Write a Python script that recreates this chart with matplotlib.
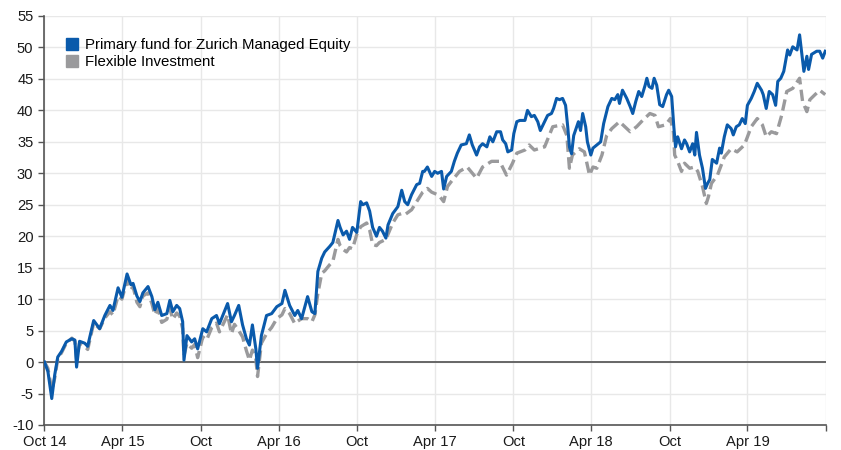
import matplotlib
matplotlib.use("Agg")
import matplotlib.pyplot as plt
import matplotlib.dates as mdates
from matplotlib.lines import Line2D
import pandas as pd

plt.rcParams['font.family'] = ['Liberation Sans', 'DejaVu Sans']

series_names = ["Primary fund for Zurich Managed Equity", "Flexible Investment"]

primary_dates = [
    "2014-10-01", "2014-10-09", "2014-10-18", "2014-10-25", "2014-11-01", "2014-11-10", "2014-11-21",
    "2014-12-04", "2014-12-11", "2014-12-15", "2014-12-22", "2015-01-03", "2015-01-10", "2015-01-15",
    "2015-01-24", "2015-02-07", "2015-02-19", "2015-03-03", "2015-03-10", "2015-03-22", "2015-03-31",
    "2015-04-12", "2015-04-21", "2015-04-26", "2015-05-05", "2015-05-12", "2015-05-19", "2015-05-31",
    "2015-06-09", "2015-06-16", "2015-06-23", "2015-07-02", "2015-07-14", "2015-07-21", "2015-07-28",
    "2015-08-06", "2015-08-13", "2015-08-20", "2015-08-23", "2015-08-30", "2015-09-10", "2015-09-17",
    "2015-09-24", "2015-10-06", "2015-10-15", "2015-10-27", "2015-11-07", "2015-11-14", "2015-12-03",
    "2015-12-12", "2015-12-19", "2015-12-29", "2016-01-07", "2016-01-16", "2016-01-23", "2016-01-30",
    "2016-02-07", "2016-02-11", "2016-02-20", "2016-03-03", "2016-03-15", "2016-03-27", "2016-04-08",
    "2016-04-15", "2016-04-26", "2016-05-08", "2016-05-15", "2016-05-24", "2016-06-07", "2016-06-17",
    "2016-06-24", "2016-07-01", "2016-07-10", "2016-07-17", "2016-07-29", "2016-08-05", "2016-08-17",
    "2016-08-22", "2016-08-29", "2016-09-06", "2016-09-13", "2016-09-20", "2016-09-30", "2016-10-09",
    "2016-10-14", "2016-10-23", "2016-10-30", "2016-11-06", "2016-11-15", "2016-11-22", "2016-11-29",
    "2016-12-07", "2016-12-12", "2016-12-23", "2017-01-04", "2017-01-13", "2017-01-20", "2017-01-27",
    "2017-02-05", "2017-02-17", "2017-02-24", "2017-03-03", "2017-03-07", "2017-03-14", "2017-03-24",
    "2017-03-31", "2017-04-07", "2017-04-16", "2017-04-21", "2017-04-28", "2017-05-09", "2017-05-16",
    "2017-05-23", "2017-06-01", "2017-06-13", "2017-06-20", "2017-06-27", "2017-07-07", "2017-07-14",
    "2017-07-21", "2017-07-31", "2017-08-07", "2017-08-14", "2017-08-23", "2017-09-01", "2017-09-06",
    "2017-09-13", "2017-09-18", "2017-09-27", "2017-10-02", "2017-10-09", "2017-10-16", "2017-10-28",
    "2017-11-03", "2017-11-12", "2017-11-19", "2017-11-27", "2017-12-03", "2017-12-13", "2017-12-20",
    "2017-12-29", "2018-01-03", "2018-01-10", "2018-01-17", "2018-01-24", "2018-01-31", "2018-02-05",
    "2018-02-09", "2018-02-14", "2018-02-19", "2018-02-26", "2018-03-02", "2018-03-07", "2018-03-12",
    "2018-03-19", "2018-03-23", "2018-03-31", "2018-04-05", "2018-04-14", "2018-04-23", "2018-04-30",
    "2018-05-10", "2018-05-19", "2018-05-26", "2018-06-02", "2018-06-06", "2018-06-13", "2018-06-23",
    "2018-07-01", "2018-07-07", "2018-07-14", "2018-07-21", "2018-07-28", "2018-08-05", "2018-08-09",
    "2018-08-14", "2018-08-21", "2018-08-26", "2018-09-01", "2018-09-08", "2018-09-15", "2018-09-24",
    "2018-09-29", "2018-10-06", "2018-10-11", "2018-10-15", "2018-10-20", "2018-10-29", "2018-11-05",
    "2018-11-10", "2018-11-17", "2018-11-24", "2018-11-29", "2018-12-03", "2018-12-10", "2018-12-17",
    "2018-12-24", "2018-12-29", "2019-01-03", "2019-01-09", "2019-01-19", "2019-01-26", "2019-01-30",
    "2019-02-06", "2019-02-13", "2019-02-22", "2019-02-27", "2019-03-06", "2019-03-13", "2019-03-20",
    "2019-03-27", "2019-04-01", "2019-04-10", "2019-04-17", "2019-04-24", "2019-05-04", "2019-05-08",
    "2019-05-15", "2019-05-22", "2019-05-30", "2019-06-06", "2019-06-11", "2019-06-18", "2019-06-25",
    "2019-07-04", "2019-07-09", "2019-07-16", "2019-07-26", "2019-08-01", "2019-08-06", "2019-08-11",
    "2019-08-18", "2019-08-22", "2019-08-29", "2019-09-03", "2019-09-10", "2019-09-17", "2019-09-24",
    "2019-09-30",
]
primary_values = [
    0.0, -1.5, -5.8, -2.0, 0.8, 1.7, 3.2,
    3.7, 3.5, -0.8, 3.3, 3.0, 2.5, 4.0,
    6.6, 5.3, 7.4, 9.0, 8.2, 11.8, 10.3,
    14.0, 12.3, 12.5, 10.5, 9.6, 11.0, 12.0,
    10.4, 8.3, 9.5, 7.4, 7.7, 9.8, 8.0,
    9.0, 8.5, 6.4, 0.3, 4.2, 3.2, 3.7,
    2.1, 5.3, 4.8, 6.9, 7.4, 6.1, 9.3,
    6.4, 7.4, 9.0, 5.9, 3.7, 2.7, 5.9,
    2.1, -1.0, 4.2, 7.4, 7.7, 8.8, 9.3,
    11.4, 9.0, 7.4, 8.2, 6.9, 10.4, 8.0,
    7.7, 14.4, 16.5, 17.5, 18.4, 19.0, 22.5,
    21.4, 20.2, 20.8, 19.5, 21.4, 20.6, 25.5,
    25.0, 25.3, 24.0, 21.4, 20.0, 21.4, 20.8,
    19.7, 21.8, 23.6, 24.7, 27.3, 25.5, 25.0,
    26.6, 28.2, 28.4, 30.3, 30.3, 31.0, 29.5,
    30.3, 30.0, 30.3, 27.5, 29.5, 30.3, 31.9,
    33.2, 34.5, 34.7, 36.1, 34.5, 32.9, 34.2,
    34.7, 34.2, 35.8, 35.0, 36.6, 36.6, 35.3,
    34.7, 33.4, 33.7, 36.3, 38.2, 38.4, 38.4,
    40.0, 39.0, 39.2, 38.2, 36.8, 38.2, 39.2,
    39.5, 40.3, 41.9, 41.7, 41.9, 40.8, 37.4,
    34.2, 33.1, 36.0, 37.4, 38.2, 36.8, 39.5,
    37.4, 35.0, 32.9, 34.0, 34.5, 35.0, 37.9,
    40.6, 41.9, 41.7, 42.5, 41.1, 43.2, 41.9,
    40.6, 39.5, 41.4, 43.0, 42.2, 44.0, 45.1,
    43.8, 43.5, 45.1, 44.0, 40.9, 40.6, 42.5,
    43.2, 42.2, 37.4, 34.2, 35.8, 33.9, 35.3,
    34.7, 33.4, 34.7, 32.9, 36.5, 32.9, 30.8,
    27.6, 28.4, 29.0, 32.2, 31.6, 34.0, 33.2,
    35.8, 37.7, 37.1, 36.1, 37.4, 37.7, 38.7,
    37.9, 40.8, 41.9, 43.0, 44.3, 43.2, 42.5,
    40.3, 43.0, 42.5, 40.8, 44.6, 45.1, 46.2,
    49.6, 48.8, 50.1, 49.6, 52.0, 49.1, 46.2,
    48.6, 46.5, 48.9, 49.1, 49.4, 49.4, 48.3,
    49.4,
]

flexible_dates = [
    "2014-10-01", "2014-10-09", "2014-10-18", "2014-10-25", "2014-11-01", "2014-11-10", "2014-11-21",
    "2014-12-04", "2014-12-11", "2014-12-15", "2014-12-22", "2015-01-03", "2015-01-10", "2015-01-15",
    "2015-01-24", "2015-02-07", "2015-02-19", "2015-03-03", "2015-03-10", "2015-03-22", "2015-03-31",
    "2015-04-12", "2015-04-21", "2015-04-26", "2015-05-05", "2015-05-12", "2015-05-19", "2015-05-31",
    "2015-06-09", "2015-06-16", "2015-06-23", "2015-07-02", "2015-07-14", "2015-07-21", "2015-07-28",
    "2015-08-06", "2015-08-13", "2015-08-20", "2015-08-23", "2015-08-30", "2015-09-10", "2015-09-17",
    "2015-09-24", "2015-10-06", "2015-10-15", "2015-10-27", "2015-11-07", "2015-11-14", "2015-12-03",
    "2015-12-12", "2015-12-19", "2015-12-29", "2016-01-07", "2016-01-16", "2016-01-23", "2016-01-30",
    "2016-02-07", "2016-02-11", "2016-02-20", "2016-03-03", "2016-03-15", "2016-03-27", "2016-04-08",
    "2016-04-15", "2016-04-26", "2016-05-08", "2016-05-15", "2016-05-24", "2016-06-07", "2016-06-17",
    "2016-06-24", "2016-07-01", "2016-07-10", "2016-07-17", "2016-07-29", "2016-08-05", "2016-08-17",
    "2016-08-22", "2016-08-29", "2016-09-06", "2016-09-13", "2016-09-20", "2016-09-30", "2016-10-09",
    "2016-10-23", "2016-10-30", "2016-11-06", "2016-11-15", "2016-11-22", "2016-12-07", "2016-12-23",
    "2017-01-04", "2017-01-13", "2017-01-20", "2017-02-05", "2017-02-17", "2017-03-03", "2017-03-14",
    "2017-03-24", "2017-04-10", "2017-04-21", "2017-04-30", "2017-05-09", "2017-05-28", "2017-06-15",
    "2017-07-07", "2017-07-21", "2017-08-11", "2017-08-30", "2017-09-15", "2017-09-29", "2017-10-09",
    "2017-10-28", "2017-11-07", "2017-11-19", "2017-12-13", "2018-01-01", "2018-01-24", "2018-02-03",
    "2018-02-09", "2018-02-16", "2018-03-04", "2018-03-16", "2018-03-28", "2018-04-05", "2018-04-14",
    "2018-04-26", "2018-05-07", "2018-05-19", "2018-06-06", "2018-07-01", "2018-07-16", "2018-07-30",
    "2018-08-16", "2018-08-28", "2018-09-05", "2018-09-22", "2018-10-03", "2018-10-10", "2018-10-13",
    "2018-10-20", "2018-10-29", "2018-11-05", "2018-11-17", "2018-11-29", "2018-12-06", "2018-12-17",
    "2018-12-26", "2018-12-31", "2019-01-07", "2019-01-21", "2019-02-06", "2019-02-22", "2019-03-08",
    "2019-03-25", "2019-04-10", "2019-04-24", "2019-05-06", "2019-05-15", "2019-05-27", "2019-06-08",
    "2019-06-20", "2019-07-02", "2019-07-16", "2019-08-01", "2019-08-08", "2019-08-18", "2019-08-25",
    "2019-09-06", "2019-09-17", "2019-09-30",
]
flexible_values = [
    0.0, -1.0, -4.5, -2.5, 0.5, 1.5, 3.0,
    3.8, 3.3, 0.5, 3.0, 2.5, 2.0, 3.5,
    6.2, 5.3, 7.0, 8.0, 7.5, 10.5, 10.0,
    13.0, 11.5, 12.0, 9.5, 8.8, 10.5, 11.0,
    9.3, 7.5, 8.5, 6.3, 6.8, 8.5, 6.8,
    7.8, 7.3, 5.3, 1.0, 3.0, 2.2, 2.8,
    0.7, 4.0, 3.5, 5.5, 6.2, 4.8, 7.5,
    4.5, 6.0, 5.0, 4.0, 1.8, 0.3, 1.9,
    0.5, -2.3, 3.0, 4.5, 5.5, 6.9, 7.5,
    8.5, 7.7, 6.1, 6.5, 6.9, 6.9, 6.4,
    7.5, 10.9, 14.1, 14.5, 15.5, 16.0, 19.5,
    18.5, 17.9, 17.5, 18.2, 18.0, 20.3, 21.5,
    22.1, 21.0, 18.7, 18.5, 19.0, 19.5, 22.1,
    23.4, 23.6, 23.4, 24.2, 25.5, 27.0, 27.6,
    27.0, 26.5, 25.5, 27.9, 28.7, 30.3, 31.0,
    29.2, 31.0, 31.9, 31.9, 29.7, 31.6, 33.2,
    33.7, 34.5, 33.7, 34.2, 37.4, 37.7, 36.0,
    30.8, 32.9, 33.9, 33.4, 29.7, 31.0, 30.8,
    32.9, 36.0, 37.1, 38.2, 36.6, 37.4, 38.4,
    39.5, 39.2, 37.4, 37.7, 38.7, 36.6, 32.9,
    31.9, 30.3, 31.6, 30.8, 31.0, 30.3, 27.9,
    25.2, 26.3, 28.4, 29.7, 32.6, 33.9, 33.4,
    34.5, 37.4, 38.7, 37.7, 35.8, 36.6, 36.3,
    39.2, 43.0, 43.5, 45.1, 41.4, 39.8, 41.7,
    42.5, 43.2, 42.5,
]

tick_dates = ["2014-10-01", "2015-04-01", "2015-10-01", "2016-04-01", "2016-10-01",
              "2017-04-01", "2017-10-01", "2018-04-01", "2018-10-01", "2019-04-01", "2019-10-01"]
tick_labels = ["Oct 14", "Apr 15", "Oct", "Apr 16", "Oct", "Apr 17", "Oct", "Apr 18", "Oct", "Apr 19", ""]
y_ticks = list(range(-10, 56, 5))

blue = "#0a5aab"
grey = "#9a9a9c"

fig = plt.figure(figsize=(8.41, 4.5), dpi=100)
ax = fig.add_axes([0.0529, 0.0556, 0.9289, 0.9089])

pdates = pd.to_datetime(primary_dates)
fdates = pd.to_datetime(flexible_dates)
tdates = pd.to_datetime(tick_dates)

ax.plot(fdates, flexible_values, color=grey, lw=2.4, dashes=(3.4, 1.6), zorder=3,
        solid_joinstyle='round')
ax.plot(pdates, primary_values, color=blue, lw=2.2, zorder=4, solid_joinstyle='round')

ax.axhline(0, color="#666666", lw=1.4, zorder=2)

ax.set_xlim(tdates[0], tdates[-1])
ax.set_ylim(-10, 55)
ax.set_xticks(tdates)
ax.set_xticklabels(tick_labels)
ax.set_yticks(y_ticks)
ax.set_yticklabels([str(v) for v in y_ticks])

ax.grid(True, color="#e8e8e8", lw=1.0, zorder=0)
ax.set_axisbelow(True)
for s in ["top", "right"]:
    ax.spines[s].set_visible(False)
for s in ["left", "bottom"]:
    ax.spines[s].set_color("#555555")
    ax.spines[s].set_linewidth(1.2)
ax.tick_params(axis="both", colors="#555555", labelcolor="#1a1a1a", labelsize=10.6,
               length=4, width=1.0)
ax.tick_params(axis="x", pad=3)
ax.tick_params(axis="y", pad=4)

handles = [Line2D([], [], color=blue, marker="s", markersize=9.0, linestyle="none"),
           Line2D([], [], color=grey, marker="s", markersize=9.0, linestyle="none")]
ax.legend(handles, series_names, loc="upper left", bbox_to_anchor=(0.025, 0.946),
          frameon=False, fontsize=10.8, handlelength=1.0, handletextpad=0.4,
          labelspacing=0.2, borderpad=0, borderaxespad=0)

fig.savefig("out.png", dpi=100)
